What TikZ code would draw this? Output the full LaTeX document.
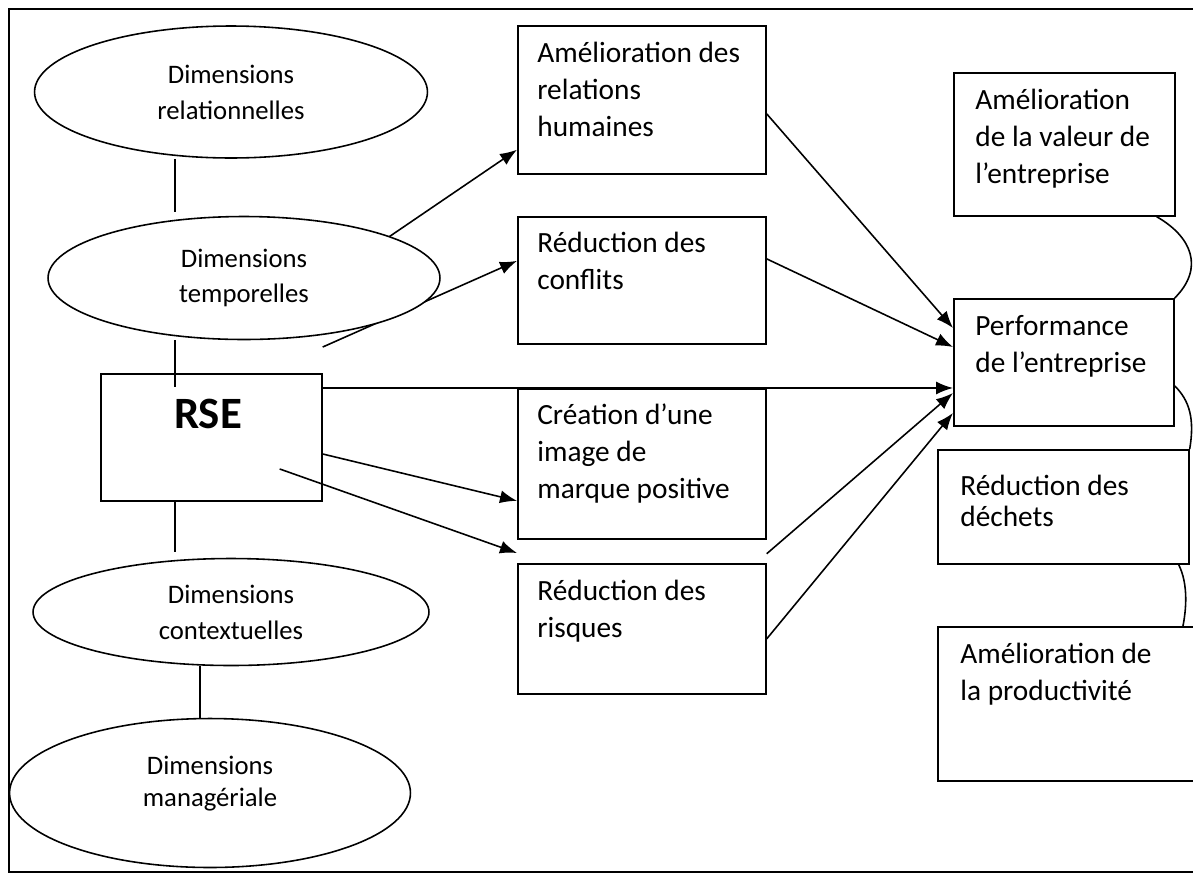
\documentclass[tikz,border=0pt]{standalone}
\usepackage{fontspec}
\setmainfont{Carlito}
\usetikzlibrary{shapes.geometric, arrows.meta, backgrounds}

\tikzset{
  boite/.style={draw, line width=1pt, anchor=north west, inner sep=0pt},
  texte/.style={anchor=base west, align=left, inner sep=0pt, font=\fontsize{16.7}{21}\selectfont},
  dim/.style={ellipse, draw, fill=white, line width=0.9pt, inner sep=0pt, align=center, font=\fontsize{15.2}{20.4}\selectfont},
  lien/.style={line width=0.9pt},
  fleche/.style={line width=0.9pt, -{Latex[length=0.34cm,width=0.26cm]}},
}

\begin{document}
\begin{tikzpicture}[x=0.02cm, y=-0.02cm]
\useasboundingbox (0,0) rectangle (1193,890);
\clip (0,0) rectangle (1193,890);
% Cadre
\draw[line width=1.1pt] (9,9) rectangle (1215,872);
% Dimensions
\node[dim, minimum width=7.86cm, minimum height=2.64cm] (relationnelle) at (231,92) {Dimensions\\relationnelles};
\node[dim, minimum width=7.84cm, minimum height=2.46cm] (temporelle) at (244,278) {Dimensions\\temporelles};
\node[dim, minimum width=7.92cm, minimum height=2.14cm] (contextuelle) at (231,612) {Dimensions\\contextuelles};
\node[dim, minimum width=8.02cm, minimum height=2.98cm, font=\fontsize{15.2}{18.2}\selectfont] (manageriale) at (210,793) {Dimensions\\managériale\\[-0.16cm]};
% RSE
\node[boite, minimum width=4.42cm, minimum height=2.54cm] (rse) at (100,373) {};
\node[anchor=base, inner sep=0pt, font=\fontsize{25.5}{30}\selectfont\bfseries] (rseTxt) at ([shift={(108,55)}]rse.north west) {RSE};
% Effets
\node[boite, minimum width=4.96cm, minimum height=2.96cm] (relations) at (517,25) {};
\node[texte] (relationsTxt) at ([shift={(20,111)}]relations.north west) {Amélioration des\\relations\\humaines};
\node[boite, minimum width=4.96cm, minimum height=2.54cm] (conflits) at (517,216) {};
\node[texte] (conflitsTxt) at ([shift={(20,73)}]conflits.north west) {Réduction des\\conflits};
\node[boite, minimum width=4.96cm, minimum height=3.0cm] (creation) at (517,388) {};
\node[texte] (creationTxt) at ([shift={(20,110)}]creation.north west) {Création d’une\\image de\\marque positive};
\node[boite, minimum width=4.96cm, minimum height=2.6cm] (risques) at (517,563) {};
\node[texte] (risquesTxt) at ([shift={(20,74)}]risques.north west) {Réduction des\\risques};
% Performance
\node[boite, minimum width=4.42cm, minimum height=2.86cm] (valeur) at (953,72) {};
\node[texte] (valeurTxt) at ([shift={(22,111)}]valeur.north west) {Amélioration\\de la valeur de\\l’entreprise};
\node[boite, minimum width=4.4cm, minimum height=2.54cm] (performance) at (953,298) {};
\node[texte] (performanceTxt) at ([shift={(22,74)}]performance.north west) {Performance\\de l’entreprise};
\node[boite, minimum width=5.02cm, minimum height=2.28cm] (dechets) at (937,449) {};
\node[texte, font=\fontsize{16.7}{17.6}\selectfont] (dechetsTxt) at ([shift={(23,77)}]dechets.north west) {Réduction des\\déchets};
\node[boite, minimum width=5.5cm, minimum height=3.08cm] (productivite) at (937,626) {};
\node[texte] (productiviteTxt) at ([shift={(23,74)}]productivite.north west) {Amélioration de\\la productivité};
% Liens
\coordinate (axeA) at (175,0);
\coordinate (axeB) at (200,0);
\coordinate (depart) at (330,277);
\begin{scope}[on background layer]
\draw[lien, shorten >=0.08cm] (relationnelle.south -| axeA) -- (temporelle.north -| axeA);
\draw[lien, shorten >=-0.28cm] (temporelle.south -| axeA) -- (rse.north -| axeA);
\draw[lien, shorten >=0.12cm] (rse.south -| axeA) -- (contextuelle.north -| axeA);
\draw[lien] (contextuelle.south -| axeB) -- (manageriale.north -| axeB);
\draw[fleche] (depart) -- ([yshift=0.5cm]relations.south west);
\draw[fleche] ([yshift=0.52cm]rse.north east) -- ([yshift=0.39cm]conflits.west);
\draw[fleche] ([yshift=-0.3cm]rse.north east) -- ([yshift=-1.8cm]performance.north west);
\draw[fleche] ([yshift=-1.62cm]rse.north east) -- ([yshift=-0.74cm]creation.west);
\draw[fleche] ([shift={(-0.86cm,-1.92cm)}]rse.north east) -- ([yshift=0.2cm]risques.north west);
\draw[fleche] ([yshift=-0.28cm]relations.east) -- ([yshift=-0.6cm]performance.north west);
\draw[fleche] ([yshift=0.43cm]conflits.east) -- ([yshift=-0.98cm]performance.north west);
\draw[fleche] ([yshift=-0.28cm]creation.south east) -- ([yshift=-1.9cm]performance.north west);
\draw[fleche] ([yshift=-0.2cm]risques.east) -- ([yshift=-2.3cm]performance.north west);
\end{scope}
\draw[lien] ([xshift=-0.38cm]valeur.south east) .. controls +(35,20) and +(30,-30) .. (performance.north east);
\draw[lien] ([yshift=-0.47cm]performance.east) .. controls +(15,15) and +(5,-30) .. (dechets.north east);
\draw[lien] ([xshift=-0.22cm]dechets.south east) .. controls +(10,20) and +(3,-15) .. ([xshift=4.92cm]productivite.north west);
\end{tikzpicture}
\end{document}
